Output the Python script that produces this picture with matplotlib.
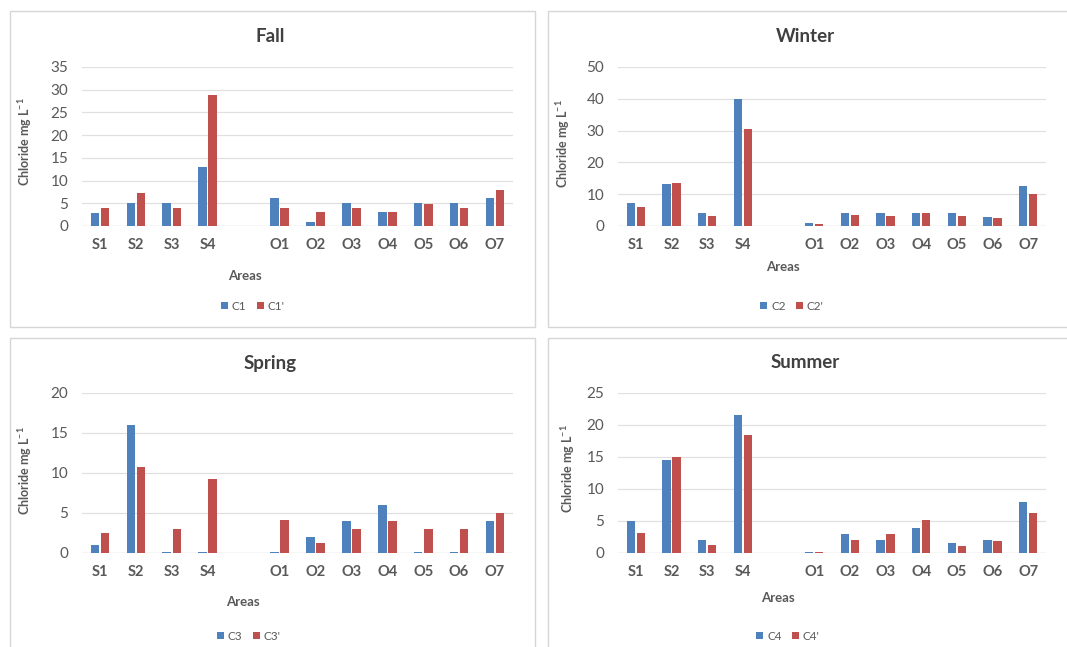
import numpy as np
import matplotlib.pyplot as plt
from matplotlib.patches import Rectangle

plt.rcParams['font.family'] = ['Lato', 'DejaVu Sans']

areas = ['S1', 'S2', 'S3', 'S4', '', 'O1', 'O2', 'O3', 'O4', 'O5', 'O6', 'O7']

# values per area (None = empty slot between S and O groups)
fall_c1 = [2.9, 5.0, 5.0, 12.9, None, 6.1, 0.8, 5.0, 3.0, 5.0, 5.0, 6.1]
fall_c1p = [3.9, 7.2, 3.9, 28.9, None, 3.9, 3.0, 3.9, 3.1, 4.8, 3.9, 8.0]
winter_c2 = [7.1, 13.2, 4.0, 39.9, None, 0.8, 4.0, 4.0, 4.0, 4.0, 2.8, 12.7]
winter_c2p = [5.9, 13.4, 3.0, 30.6, None, 0.6, 3.5, 3.0, 4.0, 3.0, 2.6, 10.1]
spring_c3 = [1.0, 16.0, 0.1, 0.1, None, 0.1, 2.0, 4.0, 6.0, 0.1, 0.1, 4.0]
spring_c3p = [2.5, 10.7, 2.95, 9.3, None, 4.1, 1.3, 3.0, 4.0, 3.0, 3.0, 5.0]
summer_c4 = [5.0, 14.5, 2.0, 21.6, None, 0.2, 3.0, 2.0, 3.9, 1.5, 2.1, 8.0]
summer_c4p = [3.1, 15.0, 1.2, 18.4, None, 0.2, 2.1, 3.0, 5.2, 1.1, 1.8, 6.2]

BLUE = '#4f81bd'
RED = '#c0504d'
W, H = 1067, 647

fig = plt.figure(figsize=(W / 100, H / 100), dpi=100)

# panel frames (pixels: x0, y0, x1, y1)
for x0, y0, x1, y1 in [(10, 11, 535, 327), (548, 11, 1070, 327),
                       (10, 338, 535, 650), (548, 338, 1070, 650)]:
    fig.patches.append(Rectangle((x0 / W, 1 - y1 / H), (x1 - x0) / W, (y1 - y0) / H,
                                 transform=fig.transFigure, fill=False,
                                 edgecolor='#d6d6d6', linewidth=1.0))

panels = [
    # title, s1, s2, labels, ymax, step, axes box px, title xy, areas xy, ylabel xy, legend xy
    ('Fall', fall_c1, fall_c1p, ('C1', "C1'"), 35, 5, (82, 67, 513, 226),
     (270, 36), (245, 276), (25, 142), (253, 306)),
    ('Winter', winter_c2, winter_c2p, ('C2', "C2'"), 50, 10, (618, 67, 1046, 226),
     (805, 36), (783, 267), (563, 144), (792, 306)),
    ('Spring', spring_c3, spring_c3p, ('C3', "C3'"), 20, 5, (82, 393, 513, 553),
     (270, 363), (243, 602), (25, 471), (249, 636)),
    ('Summer', summer_c4, summer_c4p, ('C4', "C4'"), 25, 5, (618, 393, 1046, 553),
     (805, 363), (778, 598), (568, 469), (788, 636)),
]

x = np.arange(len(areas))
width = 0.24
off = 0.14

for title, s1, s2, labs, ymax, step, box, txy, axy, yxy, lxy in panels:
    x0, y0, x1, y1 = box
    ax = fig.add_axes([x0 / W, 1 - y1 / H, (x1 - x0) / W, (y1 - y0) / H])
    v1 = [np.nan if v is None else v for v in s1]
    v2 = [np.nan if v is None else v for v in s2]
    b1 = ax.bar(x - off, v1, width, color=BLUE, label=labs[0], zorder=3)
    b2 = ax.bar(x + off, v2, width, color=RED, label=labs[1], zorder=3)
    ax.set_xlim(-0.5, len(areas) - 0.5)
    ax.set_ylim(0, ymax)
    ax.set_yticks(np.arange(0, ymax + 1, step))
    ax.set_xticks(x)
    ax.set_xticklabels(areas, fontweight='bold', fontsize=10.5, color='#595959')
    ax.tick_params(axis='y', labelsize=11, labelcolor='#595959', length=0, pad=10)
    ax.tick_params(axis='x', length=0, pad=9)
    ax.grid(axis='y', color='#e0e0e0', linewidth=0.9, zorder=0)
    for sp in ax.spines.values():
        sp.set_visible(False)
    ax.axhline(0, color='#d9d9d9', linewidth=0.9, zorder=1)

    fig.text(txy[0] / W, 1 - txy[1] / H, title, ha='center', va='center',
             fontsize=13.5, fontweight='bold', color='#404040')
    fig.text(axy[0] / W, 1 - axy[1] / H, 'Areas', ha='center', va='center',
             fontsize=9.5, fontweight='bold', color='#595959')
    fig.text(yxy[0] / W, 1 - yxy[1] / H, r'Chloride mg L$^{\mathregular{-1}}$',
             ha='center', va='center', rotation=90, fontsize=9,
             fontweight='bold', color='#595959')
    fig.legend(handles=[b1, b2], loc='center', ncol=2, frameon=False,
               bbox_to_anchor=(lxy[0] / W, 1 - lxy[1] / H),
               fontsize=8.5, labelcolor='#595959',
               handlelength=0.6, handleheight=0.6, handletextpad=0.3,
               columnspacing=0.9)

fig.savefig('out.png', dpi=100, facecolor='white')
